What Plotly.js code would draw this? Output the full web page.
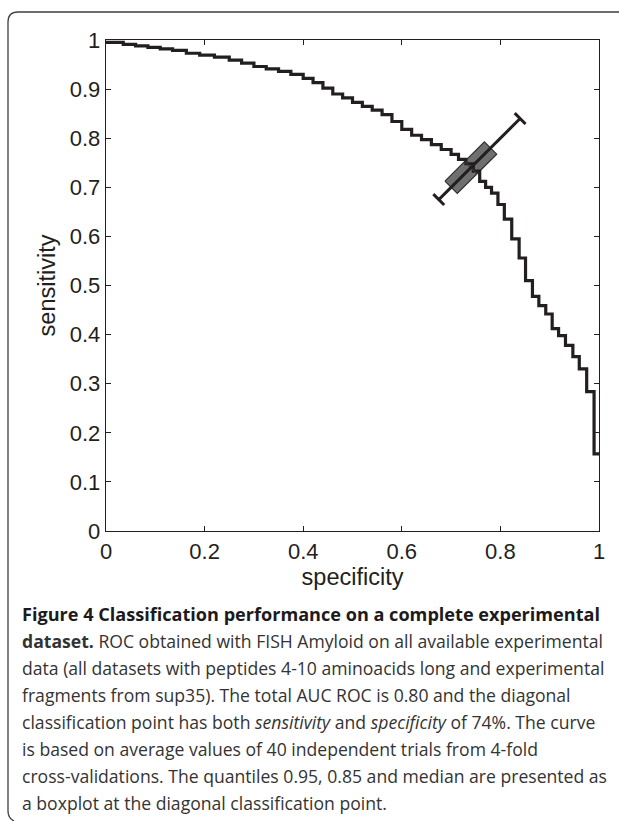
<!DOCTYPE html>
<html>
<head>
<meta charset="utf-8">
<script src="https://cdn.plot.ly/plotly-3.0.1.min.js"></script>
<style>
  html, body { margin: 0; padding: 0; background: #ffffff; }
  #chart { width: 619px; height: 821px; }
</style>
</head>
<body>
<div id="chart"></div>
<script>
// ---- Data ----
// ROC curve (step shape 'vh'): specificity (x) and sensitivity (y)
const specificity = [0, 0.035, 0.06, 0.085, 0.11, 0.135, 0.163, 0.19, 0.22, 0.25,
  0.275, 0.30, 0.325, 0.35, 0.375, 0.40, 0.42, 0.44, 0.46, 0.48,
  0.50, 0.52, 0.54, 0.56, 0.58, 0.60, 0.62, 0.64, 0.66, 0.68,
  0.70, 0.715, 0.73, 0.745, 0.758, 0.77, 0.782, 0.795, 0.808, 0.823,
  0.838, 0.851, 0.865, 0.878, 0.892, 0.905, 0.918, 0.932, 0.947, 0.960,
  0.975, 0.99, 1.0];
const sensitivity = [0.995, 0.995, 0.991, 0.988, 0.985, 0.982, 0.979, 0.973, 0.969, 0.965,
  0.959, 0.953, 0.946, 0.941, 0.936, 0.930, 0.922, 0.913, 0.902, 0.890,
  0.882, 0.873, 0.865, 0.857, 0.848, 0.834, 0.818, 0.806, 0.797, 0.787,
  0.777, 0.767, 0.757, 0.748, 0.733, 0.712, 0.700, 0.688, 0.665, 0.635,
  0.595, 0.556, 0.510, 0.478, 0.459, 0.442, 0.412, 0.398, 0.378, 0.355,
  0.330, 0.284, 0.157];

// Boxplot at the diagonal classification point (values along the diagonal)
const boxLow = 0.675;     // lower whisker end
const boxQ1 = 0.70;       // lower box edge
const boxMedian = 0.74;   // median / diagonal point
const boxQ3 = 0.78;       // upper box edge
const boxHigh = 0.84;     // upper whisker end

// Tick labels
const xTicks = [0, 0.2, 0.4, 0.6, 0.8, 1];
const xTickText = ['0', '0.2', '0.4', '0.6', '0.8', '1'];
const yTicks = [0, 0.1, 0.2, 0.3, 0.4, 0.5, 0.6, 0.7, 0.8, 0.9, 1];
const yTickText = ['0', '0.1', '0.2', '0.3', '0.4', '0.5', '0.6', '0.7', '0.8', '0.9', '1'];

// Caption
const captionLines = [
  '<b>Figure 4 Classification performance on a complete experimental</b>',
  '<b>dataset.</b> ROC obtained with FISH Amyloid on all available experimental',
  'data (all datasets with peptides 4-10 aminoacids long and experimental',
  'fragments from sup35). The total AUC ROC is 0.80 and the diagonal',
  'classification point has both <i>sensitivity</i> and <i>specificity</i> of 74%. The curve',
  'is based on average values of 40 independent trials from 4-fold',
  'cross-validations. The quantiles 0.95, 0.85 and median are presented as',
  'a boxplot at the diagonal classification point.'
];

// ---- Layout geometry (pixels) ----
const W = 619, H = 821;
const L = 106, R = 20, T = 40, B = 290;
const plotW = W - L - R, plotH = H - T - B;
const px = x => (x - L) / plotW;          // pixel -> paper x
const py = y => (H - B - y) / plotH;      // pixel -> paper y

// Box geometry: perpendicular offsets (data units) from the diagonal
const halfBox = 0.0125;
const halfCap = 0.011;

const ink = '#231f20';

const traces = [];

// Box (rotated rectangle along the diagonal)
traces.push({
  x: [boxQ1 - halfBox, boxQ3 - halfBox, boxQ3 + halfBox, boxQ1 + halfBox, boxQ1 - halfBox],
  y: [boxQ1 + halfBox, boxQ3 + halfBox, boxQ3 - halfBox, boxQ1 - halfBox, boxQ1 + halfBox],
  mode: 'lines', fill: 'toself', fillcolor: '#6f6f6f',
  line: {color: '#2e2e2e', width: 1.2}, hoverinfo: 'skip', showlegend: false
});

// ROC curve
traces.push({
  x: specificity, y: sensitivity, mode: 'lines',
  line: {color: ink, width: 3.2, shape: 'vh'},
  hoverinfo: 'skip', showlegend: false
});

// Median line across the box
traces.push({
  x: [boxMedian - halfBox, boxMedian + halfBox],
  y: [boxMedian + halfBox, boxMedian - halfBox],
  mode: 'lines', line: {color: '#3a3a3a', width: 1.2},
  hoverinfo: 'skip', showlegend: false
});

// Whisker line along the diagonal
traces.push({
  x: [boxLow, boxHigh], y: [boxLow, boxHigh], mode: 'lines',
  line: {color: ink, width: 3}, hoverinfo: 'skip', showlegend: false
});

// Whisker caps
[boxLow, boxHigh].forEach(v => {
  traces.push({
    x: [v - halfCap, v + halfCap], y: [v + halfCap, v - halfCap], mode: 'lines',
    line: {color: ink, width: 3}, hoverinfo: 'skip', showlegend: false
  });
});

// Caption annotations
const captionTop = 614;
const captionStep = 27;
const annotations = captionLines.map((t, i) => ({
  text: t, xref: 'paper', yref: 'paper',
  x: px(20), y: py(captionTop + i * captionStep),
  xanchor: 'left', yanchor: 'middle', showarrow: false, align: 'left',
  font: {family: 'Open Sans, sans-serif', size: i === 0 ? 18.1 : 17.6,
         color: i === 0 ? '#1c1a1b' : '#333333'}
}));

// Frame around figure (top and left edges with rounded corners)
const frame = {
  type: 'path', xref: 'paper', yref: 'paper',
  path: 'M ' + px(622) + ' ' + py(12) +
        ' L ' + px(18) + ' ' + py(12) +
        ' Q ' + px(8) + ' ' + py(12) + ' ' + px(8) + ' ' + py(22) +
        ' L ' + px(8) + ' ' + py(811) +
        ' Q ' + px(8) + ' ' + py(818) + ' ' + px(14) + ' ' + py(821),
  line: {color: '#3f3f3f', width: 1.3}
};

const axisFont = {family: 'Liberation Sans, Arial, sans-serif', size: 22, color: ink};
const titleFont = {family: 'Liberation Sans, Arial, sans-serif', size: 23.5, color: ink};

const layout = {
  width: W, height: H,
  margin: {l: L, r: R, t: T, b: B, pad: 0},
  paper_bgcolor: '#ffffff', plot_bgcolor: '#ffffff',
  showlegend: false,
  xaxis: {
    range: [0, 1], tickvals: xTicks, ticktext: xTickText,
    ticks: 'inside', ticklen: 5, tickwidth: 1, tickcolor: ink,
    showline: true, linecolor: ink, linewidth: 1.3, mirror: 'ticks',
    showgrid: false, zeroline: false, tickfont: axisFont,
    title: {text: 'specificity', font: titleFont, standoff: 2}
  },
  yaxis: {
    range: [0, 1], tickvals: yTicks, ticktext: yTickText,
    ticks: 'inside', ticklen: 5, tickwidth: 1, tickcolor: ink,
    showline: true, linecolor: ink, linewidth: 1.3, mirror: 'ticks',
    showgrid: false, zeroline: false, tickfont: axisFont,
    title: {text: 'sensitivity', font: titleFont, standoff: 7}
  },
  annotations: annotations,
  shapes: [frame]
};

Plotly.newPlot('chart', traces, layout, {displayModeBar: false, staticPlot: true});
</script>
</body>
</html>
